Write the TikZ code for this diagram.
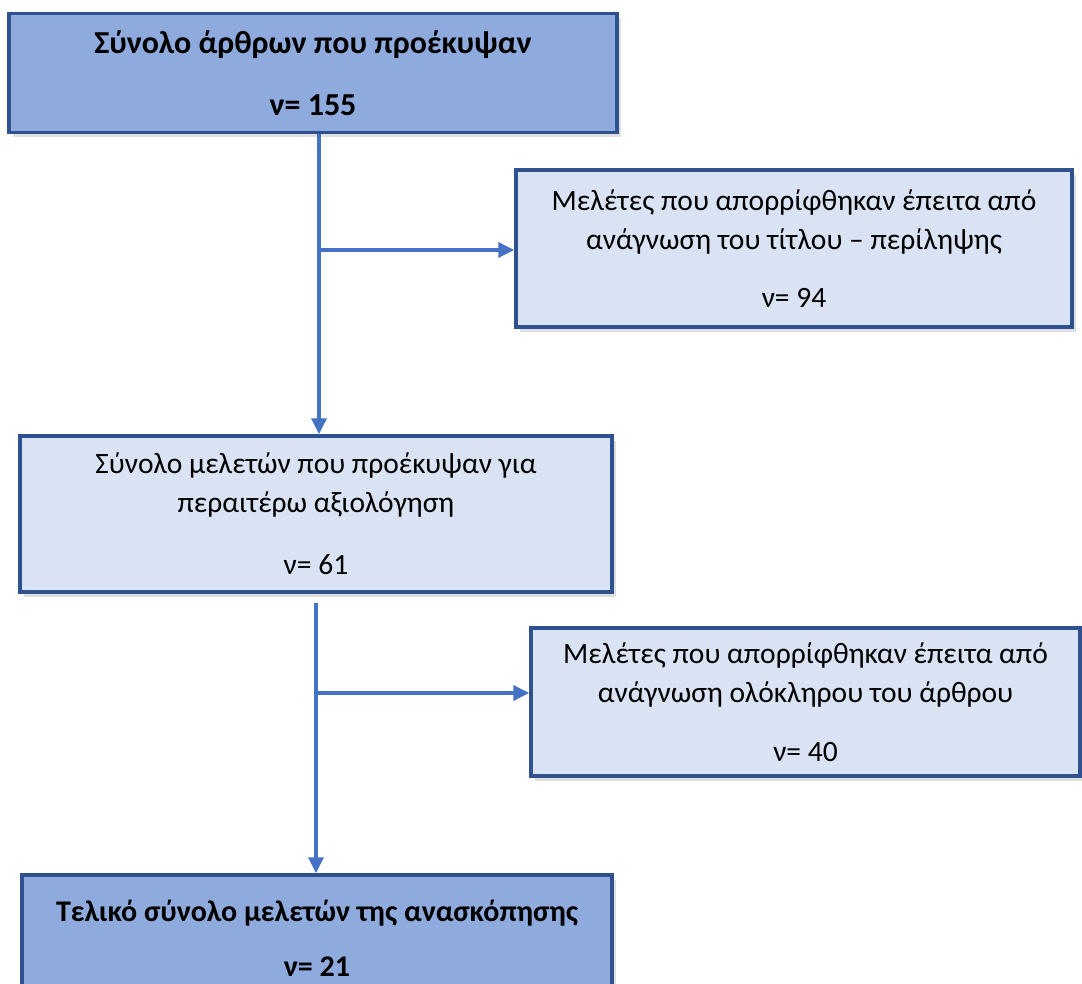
\documentclass[tikz,border=0pt]{standalone}
\usepackage{fontspec}
\setmainfont{Carlito}
\usetikzlibrary{arrows.meta,shadows}
\begin{document}
\begin{tikzpicture}[x=1pt,y=-1pt]
  % colors
  \definecolor{kBoxDark}{RGB}{143,170,220}
  \definecolor{kBoxLight}{RGB}{218,227,243}
  \definecolor{kBorder}{RGB}{47,82,143}
  \definecolor{kLine}{RGB}{68,114,196}
  \tikzset{
    box/.style={draw=kBorder,line width=3.5pt,align=center,inner sep=0pt,
      font=\fontsize{29.5}{39}\selectfont,
      drop shadow={shadow xshift=4pt,shadow yshift=-5pt,opacity=0.25}},
    boxdark/.style={box,fill=kBoxDark,font=\fontsize{32}{40}\selectfont\bfseries},
    boxlight/.style={box,fill=kBoxLight},
    flow/.style={draw=kLine,line width=3.5pt,-{Triangle[length=16pt,width=15pt]}}
  }
  \useasboundingbox (0,0) rectangle (1082,984);

  % boxes
  \node[boxdark,minimum width=608pt,minimum height=119pt] (total) at (313,73)
    {Σύνολο άρθρων που προέκυψαν\\[22pt]ν= 155};
  \node[boxlight,minimum width=556pt,minimum height=157pt] (titles) at (794,248.5)
    {Μελέτες που απορρίφθηκαν έπειτα από\\ανάγνωση του τίτλου – περίληψης\\[19pt]ν= 94};
  \node[boxlight,minimum width=592pt,minimum height=156pt] (further) at (316,514)
    {Σύνολο μελετών που προέκυψαν για\\περαιτέρω αξιολόγηση\\[23pt]ν= 61};
  \node[boxlight,minimum width=549pt,minimum height=148pt] (fulltext) at (805.5,702)
    {Μελέτες που απορρίφθηκαν έπειτα από\\ανάγνωση ολόκληρου του άρθρου\\[20pt]ν= 40};
  \node[boxdark,minimum width=590pt,minimum height=127pt,
    font=\fontsize{30}{40}\selectfont\bfseries] (final) at (317,938.5)
    {Τελικό σύνολο μελετών της ανασκόπησης\\[15pt]ν= 21};

  % arrows
  \coordinate (split1) at (319,250);
  \coordinate (split2) at (316,693);
  \draw[flow] (split1 |- total.south) -- (split1 |- further.north);
  \draw[flow] (split1) -- (split1 -| titles.west);
  \draw[flow] ([yshift=-9pt]split2 |- further.south) -- (split2 |- final.north);
  \draw[flow] (split2) -- (split2 -| fulltext.west);
\end{tikzpicture}
\end{document}
